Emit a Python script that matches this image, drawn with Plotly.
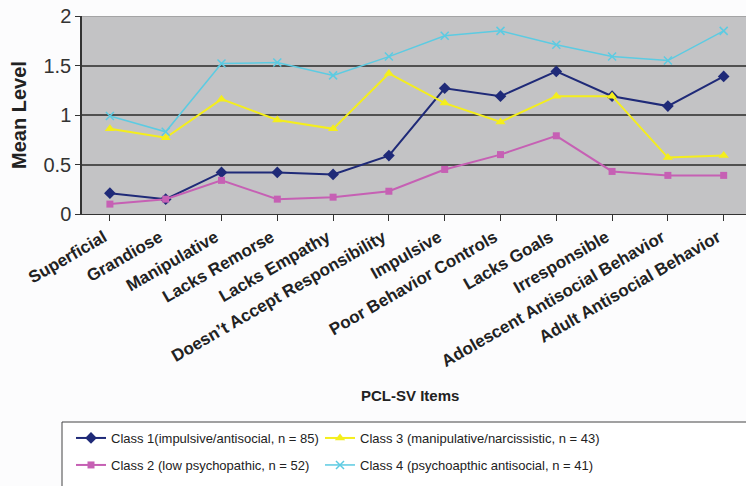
import plotly.graph_objects as go

items = ["Superficial", "Grandiose", "Manipulative", "Lacks Remorse", "Lacks Empathy",
         "Doesn’t Accept Responsibility", "Impulsive", "Poor Behavior Controls",
         "Lacks Goals", "Irresponsible", "Adolescent Antisocial Behavior",
         "Adult Antisocial Behavior"]

class1 = [0.21, 0.15, 0.42, 0.42, 0.40, 0.59, 1.27, 1.19, 1.44, 1.19, 1.09, 1.39]
class2 = [0.10, 0.15, 0.34, 0.15, 0.17, 0.23, 0.45, 0.60, 0.79, 0.43, 0.39, 0.39]
class3 = [0.86, 0.77, 1.16, 0.95, 0.86, 1.42, 1.12, 0.93, 1.19, 1.19, 0.57, 0.59]
class4 = [0.99, 0.83, 1.52, 1.53, 1.40, 1.59, 1.80, 1.85, 1.71, 1.59, 1.55, 1.85]

names = ["Class 1(impulsive/antisocial, n = 85)",
         "Class 2 (low psychopathic, n = 52)",
         "Class 3 (manipulative/narcissistic, n = 43)",
         "Class 4 (psychoapthic antisocial, n = 41)"]

ytick_vals = [0, 0.5, 1, 1.5, 2]
ytick_text = ["0", "0.5", "1", "1.5", "2"]

W, H = 746, 486

x = list(range(len(items)))
fig = go.Figure()

fig.add_trace(go.Scatter(x=x, y=class1, name=names[0], mode="lines+markers", legend="legend",
                         line=dict(color="#1f2a78", width=2),
                         marker=dict(symbol="diamond", size=9, color="#1f2a78")))
fig.add_trace(go.Scatter(x=x, y=class2, name=names[1], mode="lines+markers", legend="legend2",
                         line=dict(color="#c660b4", width=2),
                         marker=dict(symbol="square", size=7, color="#c660b4")))
fig.add_trace(go.Scatter(x=x, y=class3, name=names[2], mode="lines+markers", legend="legend3",
                         line=dict(color="#f4ee1c", width=2),
                         marker=dict(symbol="triangle-up", size=9, color="#f4ee1c")))
fig.add_trace(go.Scatter(x=x, y=class4, name=names[3], mode="lines+markers", legend="legend4",
                         line=dict(color="#5ccbe2", width=1.5),
                         marker=dict(symbol="x-thin", size=8, color="#5ccbe2",
                                     line=dict(color="#5ccbe2", width=1.5))))

leg_common = dict(orientation="h", xref="container", yref="container",
                  xanchor="left", yanchor="middle",
                  bgcolor="rgba(0,0,0,0)", borderwidth=0,
                  font=dict(size=13, color="#222"), itemwidth=30)

def lx(px):
    return (px - 2) / W

def ly(py):
    return 1 - py / H

fig.update_layout(
    width=W, height=H,
    margin=dict(l=82, r=0, t=16, b=H - 214),
    paper_bgcolor="#fcfcfd",
    plot_bgcolor="#c3c3c5",
    font=dict(family="Liberation Sans, Arial, sans-serif", color="#222"),
    showlegend=True,
    legend=dict(x=lx(73), y=ly(438), **leg_common),
    legend3=dict(x=lx(322), y=ly(438), **leg_common),
    legend2=dict(x=lx(73), y=ly(465), **leg_common),
    legend4=dict(x=lx(322), y=ly(465), **leg_common),
    shapes=[
        dict(type="rect", xref="paper", yref="paper",
             x0=(62 - 82) / 664, x1=1.05, y0=(214 - 422) / 198, y1=-1.6,
             line=dict(color="#444", width=1), fillcolor="#ffffff", layer="below"),
        dict(type="line", xref="paper", yref="y", x0=0, x1=1,
             y0=ytick_vals[-1], y1=ytick_vals[-1],
             line=dict(color="#9a9a9a", width=1.5)),
    ],
    annotations=[
        dict(text="<b>PCL-SV Items</b>", xref="paper", yref="paper",
             x=(410 - 82) / 664, y=(214 - 395) / 198, showarrow=False,
             font=dict(size=15, color="#222"), xanchor="center", yanchor="middle"),
        dict(text="<b>Mean Level</b>", xref="paper", yref="paper",
             x=(19 - 82) / 664, y=0.5, showarrow=False, textangle=-90,
             font=dict(size=20, color="#222"), xanchor="center", yanchor="middle"),
    ],
    xaxis=dict(
        range=[-0.5, 11.4], automargin=False,
        tickmode="array", tickvals=x, ticktext=items,
        tickangle=-30, ticklabeloverflow="allow", ticklabelshift=-6,
        tickfont=dict(size=17, family="Liberation Sans, Arial, sans-serif", color="#222", weight="bold"),
        ticks="outside", ticklen=6, tickcolor="#333", tickson="boundaries",
        showgrid=False, showline=True, linecolor="#333", linewidth=1,
        zeroline=False,
    ),
    yaxis=dict(
        range=[0, 2], automargin=False, ticklabeloverflow="allow",
        tickmode="array", tickvals=ytick_vals, ticktext=ytick_text,
        tickfont=dict(size=20, color="#333"),
        ticks="outside", ticklen=5, tickcolor="#333",
        showgrid=True, gridcolor="#505050", gridwidth=1.5,
        showline=True, linecolor="#333", linewidth=1.5,
        zeroline=False,
    ),
)

fig.write_html("out.html", config={"displayModeBar": False},
               post_script="document.body.style.margin='0px';document.body.style.overflow='hidden';")
